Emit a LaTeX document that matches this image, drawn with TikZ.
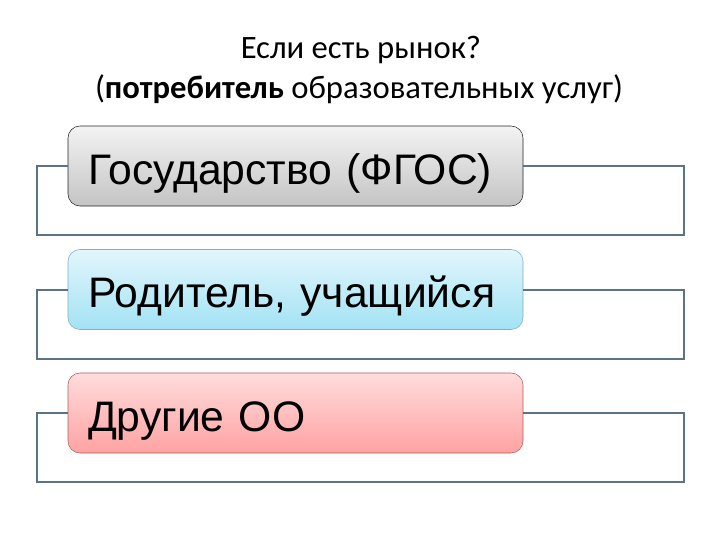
\documentclass[tikz,border=0pt]{standalone}
\usepackage{fontspec}
\setmainfont{Liberation Sans}
\newfontfamily\titlefont{Carlito}
\definecolor{framecol}{HTML}{5B7384}
\definecolor{govtop}{HTML}{F3F3F3}
\definecolor{govbot}{HTML}{C4C4C4}
\definecolor{partop}{HTML}{E2F6FC}
\definecolor{parbot}{HTML}{A3E2F4}
\definecolor{pardraw}{HTML}{7EAFC4}
\definecolor{othtop}{HTML}{FFDCDC}
\definecolor{othbot}{HTML}{FFA2A2}
\definecolor{othdraw}{HTML}{B05C5C}
\begin{document}
\begin{tikzpicture}[x=0.75pt,y=-0.75pt,
    item/.style={draw, rounded corners=9pt, minimum width=341.25pt, minimum height=60pt,
        text width=311.25pt, inner xsep=15pt, align=left, text height=27pt, text depth=0pt,
        font=\fontsize{32}{38}\selectfont},
    frame/.style={draw=framecol, line width=1.5pt},
    heading/.style={anchor=base, font=\titlefont\fontsize{24.5}{29}\selectfont}]
    \path[use as bounding box, fill=white] (0,0) rectangle (720,540);

    % Title
    \node[heading] (title1) at (361,58) {Если есть рынок?};
    \node[heading] (title2) at (359,98) {(\textbf{потребитель} образовательных услуг)};

    % Boxes
    \node[item, draw=black!85, top color=govtop, bottom color=govbot] (gov) at (295.5,166) {Государство (ФГОС)};
    \node[item, draw=pardraw, top color=partop, bottom color=parbot] (parent) at (295.5,289.5) {Родитель, учащийся};
    \node[item, draw=othdraw, top color=othtop, bottom color=othbot] (other) at (295.5,413) {Другие ОО};

    % Frames
    \foreach \b in {gov, parent, other}
        \draw[frame] (\b.west) -- ++(-31,0) -- ++(0,69) -- ++(647,0) -- ++(0,-69) -- (\b.east);
\end{tikzpicture}
\end{document}
